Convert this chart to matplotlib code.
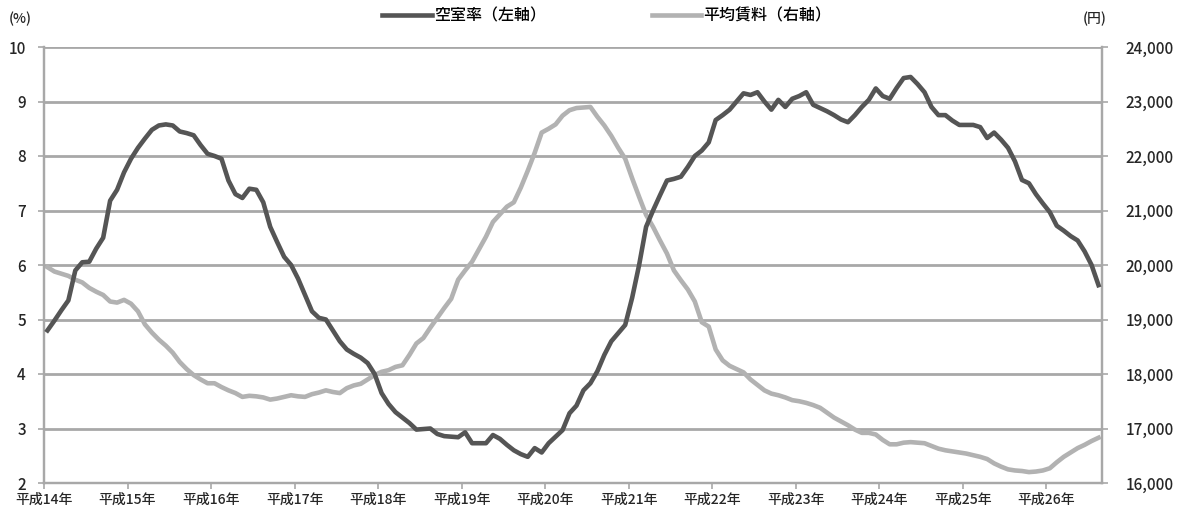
import matplotlib
matplotlib.use("Agg")
import matplotlib.pyplot as plt
from matplotlib.ticker import FuncFormatter, FixedLocator

plt.rcParams['font.family'] = ['Noto Sans CJK JP', 'DejaVu Sans']
plt.rcParams['font.weight'] = 'medium'

# Monthly series, 平成14年1月 onward
vacancy = [
    4.80, 4.98, 5.17, 5.35, 5.90, 6.05, 6.06, 6.30, 6.50, 7.18, 7.38, 7.70,
    7.95, 8.15, 8.32, 8.48, 8.56, 8.58, 8.56, 8.45, 8.42, 8.38, 8.20, 8.04,
    8.00, 7.95, 7.55, 7.30, 7.23, 7.40, 7.38, 7.15, 6.70, 6.42, 6.15, 6.00,
    5.75, 5.45, 5.15, 5.03, 5.00, 4.80, 4.60, 4.45, 4.37, 4.30, 4.20, 4.00,
    3.65, 3.45, 3.30, 3.20, 3.10, 2.98, 2.99, 3.00, 2.90, 2.86, 2.85, 2.84,
    2.93, 2.73, 2.73, 2.73, 2.88, 2.81, 2.70, 2.60, 2.53, 2.48, 2.64, 2.56,
    2.73, 2.85, 2.97, 3.28, 3.42, 3.70, 3.83, 4.05, 4.35, 4.60, 4.75, 4.90,
    5.40, 6.00, 6.70, 7.00, 7.28, 7.55, 7.58, 7.62, 7.80, 8.00, 8.10, 8.25,
    8.66, 8.75, 8.85, 9.00, 9.15, 9.12, 9.17, 9.00, 8.85, 9.03, 8.90, 9.05,
    9.10, 9.17, 8.94, 8.88, 8.82, 8.75, 8.67, 8.62, 8.75, 8.90, 9.03, 9.24,
    9.10, 9.05, 9.25, 9.43, 9.45, 9.32, 9.17, 8.90, 8.75, 8.75, 8.65, 8.57,
    8.57, 8.57, 8.53, 8.33, 8.43, 8.30, 8.15, 7.90, 7.56, 7.50, 7.30, 7.13,
    6.97, 6.72, 6.63, 6.53, 6.45, 6.25, 6.00, 5.63,
]

rent = [
    19960, 19880, 19840, 19800, 19730, 19680, 19580, 19510, 19450, 19330, 19310, 19360,
    19290, 19150, 18910, 18760, 18630, 18520, 18390, 18220, 18090, 17980, 17900, 17830,
    17830, 17760, 17700, 17650, 17580, 17600, 17590, 17570, 17530, 17550, 17580, 17610,
    17590, 17580, 17630, 17660, 17700, 17670, 17650, 17740, 17790, 17820, 17900, 17980,
    18040, 18070, 18130, 18160, 18350, 18560, 18660, 18850, 19030, 19210, 19380, 19730,
    19900, 20060, 20290, 20520, 20790, 20930, 21070, 21150, 21420, 21730, 22060, 22430,
    22500, 22580, 22740, 22840, 22880, 22890, 22900, 22720, 22560, 22370, 22150, 21950,
    21590, 21250, 20920, 20700, 20450, 20210, 19900, 19720, 19550, 19330, 18950, 18870,
    18450, 18250, 18150, 18090, 18030, 17900, 17800, 17700, 17640, 17610, 17570, 17520,
    17500, 17470, 17430, 17380, 17290, 17200, 17130, 17060, 16980, 16920, 16920, 16890,
    16790, 16710, 16710, 16740, 16750, 16740, 16730, 16680, 16630, 16600, 16580, 16560,
    16540, 16510, 16480, 16440, 16360, 16300, 16250, 16230, 16220, 16200, 16210, 16230,
    16270, 16380, 16480, 16560, 16640, 16700, 16770, 16830,
]

year_labels = ['平成14年', '平成15年', '平成16年', '平成17年', '平成18年', '平成19年',
               '平成20年', '平成21年', '平成22年', '平成23年', '平成24年', '平成25年',
               '平成26年']

label_vacancy = '空室率（左軸）'
label_rent = '平均賃料（右軸）'

DARK = '#555555'
LIGHT = '#b2b2b2'
GRID = '#a8a8a8'
TEXT = '#262626'

n = len(vacancy)
xs = [i + 0.5 for i in range(n)]

fig = plt.figure(figsize=(11.81, 5.17), dpi=100)
ax = fig.add_axes([44 / 1181, 34 / 517, 1058 / 1181, 436 / 517])
ax2 = ax.twinx()

ax.set_xlim(0, n)
ax.set_ylim(2, 10)
ax2.set_ylim(16000, 24000)

ax.set_yticks(range(2, 11))
ax2.set_yticks(range(16000, 24001, 1000))
ax2.yaxis.set_major_formatter(FuncFormatter(lambda v, p: f'{int(v):,}'))

ax.xaxis.set_major_locator(FixedLocator([12 * k for k in range(len(year_labels))]))
ax.set_xticklabels(year_labels)

ax.grid(axis='y', color=GRID, linewidth=2.0)
ax.set_axisbelow(True)

for a in (ax, ax2):
    for s in a.spines.values():
        s.set_color(GRID)
        s.set_linewidth(1.6)
    a.spines['top'].set_visible(False)

ax.tick_params(axis='y', length=4, width=1.2, color=GRID, pad=9, labelsize=11,
               labelcolor=TEXT)
ax2.tick_params(axis='y', length=4, width=1.2, color=GRID, pad=13, labelsize=11,
                labelcolor=TEXT)
ax.tick_params(axis='x', length=4, width=1.2, color=GRID, pad=3, labelsize=10,
               labelcolor=TEXT)

# vacancy is drawn on the right-hand axes (rescaled) so it sits above the rent line
line_rent, = ax2.plot(xs, rent, color=LIGHT, linewidth=3.3, solid_joinstyle='round',
                      label=label_rent, zorder=2)
line_vac, = ax2.plot(xs, [16000 + (v - 2) * 1000 for v in vacancy], color=DARK,
                     linewidth=3.3, solid_joinstyle='round', label=label_vacancy,
                     zorder=3)

fig.text(9 / 1181, 1 - 19 / 517, '(%)', fontsize=10, va='center', ha='left',
         color=TEXT)
fig.text(1083 / 1181, 1 - 19 / 517, '(円)', fontsize=10, va='center', ha='left',
         color=TEXT)

fig.legend([line_vac, line_rent], [label_vacancy, label_rent], ncol=2,
           loc='center', bbox_to_anchor=(607 / 1181, 1 - 16 / 517), frameon=False,
           fontsize=11.5, handlelength=3.1, handletextpad=0.15, columnspacing=6.6)

fig.savefig('out.png', dpi=100)
